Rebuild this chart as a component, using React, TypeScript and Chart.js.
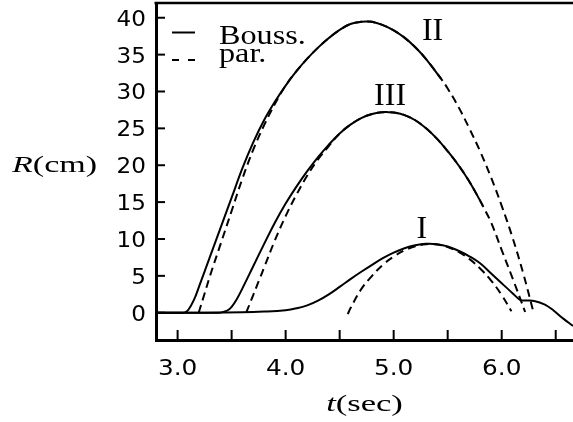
import React, { useEffect, useRef } from "react";
import { Chart, registerables } from "chart.js";

Chart.register(...registerables);

type Pt = [number, number];

// t (sec), R (cm)
const boussI: Pt[] = [
  [2.8, 0], [3.2, 0], [3.6, 0.05], [3.8, 0.15], [4.0, 0.35], [4.1, 0.6], [4.2, 1.0],
  [4.3, 1.65], [4.4, 2.5], [4.5, 3.5], [4.6, 4.55], [4.7, 5.55], [4.8, 6.5], [4.9, 7.4],
  [5.0, 8.15], [5.1, 8.75], [5.2, 9.15], [5.3, 9.35], [5.4, 9.3], [5.5, 9.0], [5.6, 8.4],
  [5.7, 7.65], [5.8, 6.7], [5.9, 5.35], [6.0, 4.0], [6.1, 2.65], [6.17, 1.75],
  [6.22, 1.65], [6.3, 1.6], [6.4, 1.1], [6.48, 0.3], [6.57, -0.8], [6.66, -1.8],
];
const parI: Pt[] = [
  [4.575, -0.2], [4.6, 0.6], [4.7, 3.2], [4.8, 5.0], [4.9, 6.5], [5.0, 7.6], [5.1, 8.45],
  [5.2, 9.0], [5.3, 9.3], [5.4, 9.25], [5.5, 8.9], [5.6, 8.25], [5.7, 7.3], [5.8, 6.0],
  [5.9, 4.4], [6.0, 2.4], [6.09, 0.2],
];
const boussII: Pt[] = [
  [2.8, 0], [3.03, 0], [3.07, 0.05], [3.1, 0.4], [3.15, 1.7], [3.2, 3.6], [3.3, 7.6],
  [3.4, 11.6], [3.5, 15.6], [3.6, 19.6], [3.7, 23.1], [3.8, 26.1], [3.9, 28.6],
  [4.0, 30.8], [4.1, 32.75], [4.2, 34.45], [4.3, 35.95], [4.4, 37.25], [4.5, 38.35],
  [4.6, 39.15], [4.7, 39.45], [4.75, 39.5], [4.8, 39.45], [4.9, 39.0], [5.0, 38.3],
  [5.1, 37.3], [5.2, 36.0], [5.3, 34.4], [5.44, 31.7],
];
const parII: Pt[] = [
  [3.195, 0], [3.25, 2.6], [3.3, 5.0], [3.4, 9.4], [3.5, 13.8], [3.6, 18.2], [3.7, 22.1],
  [3.8, 25.4], [3.9, 28.3], [4.0, 30.8], [4.1, 32.75], [4.2, 34.45], [4.3, 35.95],
  [4.4, 37.25], [4.5, 38.35], [4.6, 39.15], [4.7, 39.45], [4.75, 39.5], [4.8, 39.45],
  [4.9, 39.0], [5.0, 38.3], [5.1, 37.3], [5.2, 36.0], [5.3, 34.4], [5.44, 31.7],
  [5.5, 30.4], [5.6, 27.9], [5.7, 25.0], [5.8, 21.9], [5.9, 18.4], [6.0, 14.5],
  [6.1, 10.2], [6.2, 5.3], [6.29, 0.3],
];
const boussIII: Pt[] = [
  [2.8, 0], [3.38, 0], [3.42, 0.1], [3.46, 0.3], [3.5, 0.8], [3.55, 1.9], [3.6, 3.3],
  [3.7, 6.3], [3.8, 9.3], [3.9, 12.2], [4.0, 14.8], [4.1, 17.1], [4.2, 19.2], [4.3, 21.1],
  [4.4, 22.8], [4.5, 24.3], [4.6, 25.5], [4.7, 26.4], [4.8, 26.95], [4.9, 27.2],
  [4.95, 27.2], [5.0, 27.15], [5.1, 26.8], [5.2, 26.1], [5.3, 25.0], [5.4, 23.6],
  [5.5, 21.9], [5.6, 20.0], [5.7, 17.8], [5.8, 15.2], [5.825, 14.5],
];
const parIII: Pt[] = [
  [3.635, 0], [3.7, 2.4], [3.765, 4.8], [3.8, 6.1], [3.9, 9.8], [4.0, 13.1], [4.1, 16.0],
  [4.2, 18.6], [4.3, 20.8], [4.4, 22.6], [4.5, 24.3], [4.6, 25.5], [4.7, 26.4],
  [4.8, 26.95], [4.9, 27.2], [4.95, 27.2], [5.0, 27.15], [5.1, 26.8], [5.2, 26.1],
  [5.3, 25.0], [5.4, 23.6], [5.5, 21.9], [5.6, 20.0], [5.7, 17.8], [5.8, 15.2],
  [5.825, 14.5], [5.9, 12.3], [6.0, 8.5], [6.1, 4.7], [6.217, 0.1],
];

const yTicks = [0, 5, 10, 15, 20, 25, 30, 35, 40];
const xTicks = [3.0, 3.5, 4.0, 4.5, 5.0, 5.5, 6.0, 6.5];
const xLabelTicks = [3.0, 4.0, 5.0, 6.0];
const legendNames = ["Bouss.", "par."];
const curveNames = ["I", "II", "III"];
const curveNamePos: Pt[] = [[5.26, 10.1], [5.36, 37.0], [4.967, 28.2]];

const SERIF = "'Liberation Serif', 'Times New Roman', serif";
const SANS = "'DejaVu Sans', sans-serif";

type Part = { text: string; font: string };

function fitText(
  ctx: CanvasRenderingContext2D,
  parts: Part[],
  x: number,
  y: number,
  align: "left" | "center" | "right",
  sx: number
) {
  let w = 0;
  for (const p of parts) {
    ctx.font = p.font;
    w += ctx.measureText(p.text).width;
  }
  const total = w * sx;
  const start = align === "left" ? x : align === "center" ? x - total / 2 : x - total;
  ctx.save();
  ctx.translate(start, y);
  ctx.scale(sx, 1);
  ctx.textAlign = "left";
  ctx.textBaseline = "alphabetic";
  let cx = 0;
  for (const p of parts) {
    ctx.font = p.font;
    ctx.fillText(p.text, cx, 0);
    cx += ctx.measureText(p.text).width;
  }
  ctx.restore();
}

const decorPlugin = {
  id: "decor",
  afterDraw(chart: any) {
    const { ctx, chartArea: ca, scales } = chart;
    const xs = scales.x;
    const ys = scales.y;
    ctx.save();
    ctx.strokeStyle = "#000";
    ctx.fillStyle = "#000";
    ctx.setLineDash([]);
    // top frame
    ctx.lineWidth = 2.5;
    ctx.beginPath();
    ctx.moveTo(ca.left - 1.5, ca.top);
    ctx.lineTo(ca.right, ca.top);
    ctx.stroke();
    // inward ticks
    ctx.lineWidth = 2;
    for (const v of yTicks) {
      const y = ys.getPixelForValue(v);
      ctx.beginPath();
      ctx.moveTo(ca.left, y);
      ctx.lineTo(ca.left + 9, y);
      ctx.stroke();
    }
    for (const v of xTicks) {
      const x = xs.getPixelForValue(v);
      ctx.beginPath();
      ctx.moveTo(x, ca.bottom);
      ctx.lineTo(x, ca.bottom - 10);
      ctx.stroke();
    }
    // tick labels
    for (const v of yTicks) {
      const y = ys.getPixelForValue(v);
      fitText(ctx, [{ text: String(v), font: `21px ${SANS}` }], ca.left - 10, y + 8, "right", 1.1);
    }
    for (const v of xLabelTicks) {
      const x = xs.getPixelForValue(v);
      fitText(ctx, [{ text: v.toFixed(1), font: `21px ${SANS}` }], x, ca.bottom + 35, "center", 1.18);
    }
    // axis titles
    fitText(
      ctx,
      [
        { text: "R", font: `italic 23px ${SERIF}` },
        { text: "(cm)", font: `23px ${SERIF}` },
      ],
      12,
      171.5,
      "left",
      1.48
    );
    fitText(
      ctx,
      [
        { text: "t", font: `italic 24px ${SERIF}` },
        { text: "(sec)", font: `24px ${SERIF}` },
      ],
      (ca.left + ca.right) / 2,
      411,
      "center",
      1.44
    );
    // legend
    ctx.lineWidth = 2;
    ctx.beginPath();
    ctx.moveTo(172, 32.5);
    ctx.lineTo(195, 32.5);
    ctx.stroke();
    ctx.beginPath();
    ctx.moveTo(172, 60);
    ctx.lineTo(179, 60);
    ctx.moveTo(188, 60);
    ctx.lineTo(195, 60);
    ctx.stroke();
    fitText(ctx, [{ text: legendNames[0], font: `28px ${SERIF}` }], 219, 43.5, "left", 1.15);
    fitText(ctx, [{ text: legendNames[1], font: `28px ${SERIF}` }], 219, 62, "left", 1.15);
    // curve names
    curveNames.forEach((name, i) => {
      const [t, r] = curveNamePos[i];
      fitText(
        ctx,
        [{ text: name, font: `32px ${SERIF}` }],
        xs.getPixelForValue(t),
        ys.getPixelForValue(r),
        "center",
        1
      );
    });
    ctx.restore();
  },
};

function toXY(pts: Pt[]) {
  return pts.map(([x, y]) => ({ x, y }));
}

export default function App() {
  const ref = useRef<HTMLCanvasElement | null>(null);

  useEffect(() => {
    document.body.style.margin = "0";
    const canvas = ref.current;
    if (!canvas) return;
    const solid = (pts: Pt[], label: string) => ({
      label,
      data: toXY(pts),
      borderColor: "#000",
      borderWidth: 2,
      pointRadius: 0,
      fill: false,
      tension: 0.4,
    });
    const dashed = (pts: Pt[], label: string) => ({
      ...solid(pts, label),
      borderDash: [8, 5],
    });
    const chart = new Chart(canvas, {
      type: "line",
      data: {
        datasets: [
          dashed(parI, "par. I"),
          dashed(parII, "par. II"),
          dashed(parIII, "par. III"),
          solid(boussI, "Bouss. I"),
          solid(boussII, "Bouss. II"),
          solid(boussIII, "Bouss. III"),
        ],
      },
      options: {
        responsive: false,
        animation: false,
        layout: { padding: { top: 3, right: 0, left: 0, bottom: 0 } },
        plugins: { legend: { display: false }, tooltip: { enabled: false } },
        scales: {
          x: {
            type: "linear",
            position: "bottom",
            min: 2.8,
            max: 6.66,
            grid: { display: false, drawTicks: false, tickLength: 0 },
            border: { display: true, color: "#000", width: 3 },
            ticks: { display: false },
            afterFit: (s: any) => {
              s.height = 82;
              s.paddingLeft = 0;
              s.paddingRight = 0;
            },
          },
          y: {
            type: "linear",
            position: "left",
            min: -3.7,
            max: 42,
            grid: { display: false, drawTicks: false, tickLength: 0 },
            border: { display: true, color: "#000", width: 3 },
            ticks: { display: false },
            afterFit: (s: any) => {
              s.width = 156;
              s.paddingTop = 0;
              s.paddingBottom = 0;
            },
          },
        },
      },
      plugins: [decorPlugin],
    } as any);
    return () => chart.destroy();
  }, []);

  return (
    <div style={{ width: 573, height: 422 }}>
      <canvas ref={ref} width={573} height={422} style={{ display: "block" }} />
    </div>
  );
}
